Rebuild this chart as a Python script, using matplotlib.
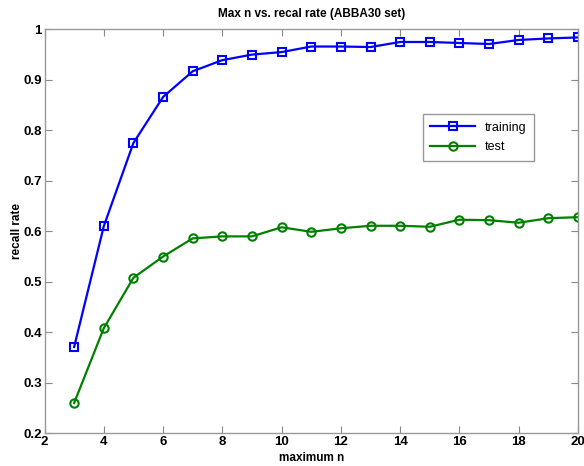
import matplotlib.pyplot as plt

plt.rcParams['font.family'] = ['Liberation Sans', 'DejaVu Sans']

max_n = [3, 4, 5, 6, 7, 8, 9, 10, 11, 12, 13, 14, 15, 16, 17, 18, 19, 20]
training = [0.371, 0.610, 0.775, 0.866, 0.917, 0.939, 0.950, 0.955, 0.966, 0.966,
            0.965, 0.975, 0.975, 0.973, 0.971, 0.979, 0.982, 0.984]
test = [0.260, 0.408, 0.508, 0.550, 0.586, 0.590, 0.590, 0.608, 0.599, 0.606,
        0.611, 0.611, 0.609, 0.623, 0.622, 0.617, 0.626, 0.628]

fig = plt.figure(figsize=(5.84, 4.66), dpi=100)
ax = fig.add_axes([0.0762, 0.0702, 0.9135, 0.8668])

ax.plot(max_n, training, '-s', color='#0000ff', linewidth=1.6, markersize=6,
        markerfacecolor='none', markeredgewidth=1.5, label='training')
ax.plot(max_n, test, '-o', color='#008000', linewidth=1.6, markersize=6,
        markerfacecolor='none', markeredgewidth=1.5, label='test')

ax.set_xlim(2, 20)
ax.set_ylim(0.2, 1.0)
ax.set_xticks(range(2, 21, 2))
ax.set_yticks([0.2, 0.3, 0.4, 0.5, 0.6, 0.7, 0.8, 0.9, 1.0])
ax.set_yticklabels(['0.2', '0.3', '0.4', '0.5', '0.6', '0.7', '0.8', '0.9', '1'])
ax.tick_params(direction='in', top=True, right=True, length=5, width=0.8,
               color='#888888', labelsize=9.5, pad=2)
for lbl in ax.get_xticklabels() + ax.get_yticklabels():
    lbl.set_fontweight('semibold')
for s in ax.spines.values():
    s.set_color('#999999')
    s.set_linewidth(1.0)

ax.set_xlabel('maximum n', fontsize=8.5, labelpad=3, fontweight='semibold')
ax.set_ylabel('recall rate', fontsize=8.5, labelpad=0, fontweight='semibold')
ax.set_title('Max n vs. recal rate (ABBA30 set)', fontsize=8.5, pad=9,
             fontweight='semibold')

ax.legend(loc='upper left', bbox_to_anchor=(0.709, 0.79), borderaxespad=0,
          fontsize=9, fancybox=False, edgecolor='#999999', framealpha=1,
          handlelength=3.6, borderpad=0.6, labelspacing=0.6)

plt.savefig('out.png', dpi=100)
